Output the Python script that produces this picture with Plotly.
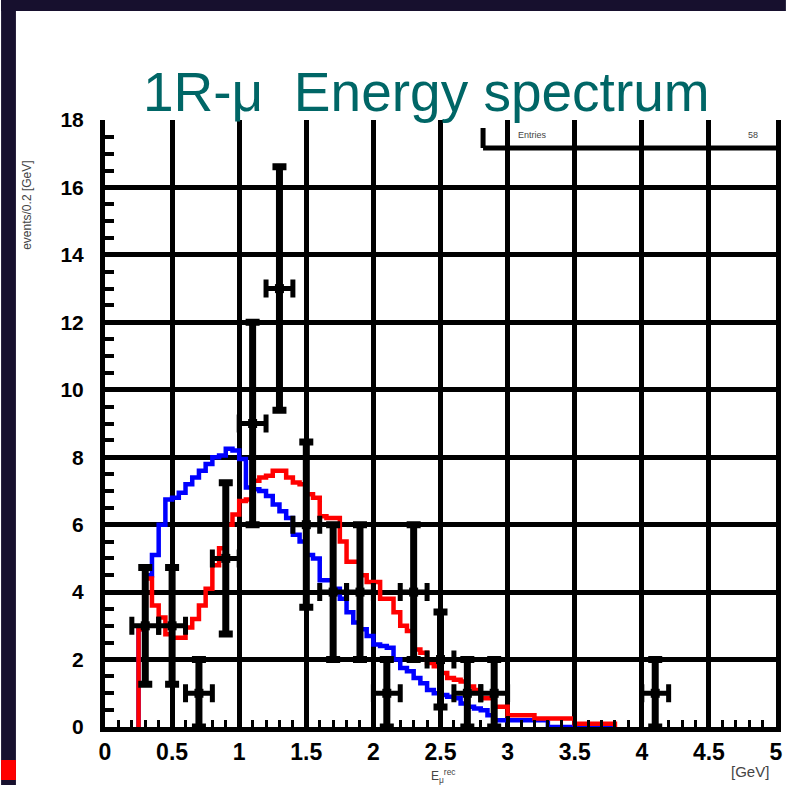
import numpy as np
import plotly.graph_objects as go

# ---------------- data ----------------
bin_start = 0.25
bin_width = 0.05
blue_mc = [2.9, 4.5, 5.1, 6.0, 6.75, 6.8, 6.95, 7.2, 7.4, 7.6,
           7.8, 8.0, 8.05, 8.25, 8.2, 7.95, 7.1, 7.05, 7.0, 6.85,
           6.6, 6.4, 6.2, 5.7, 5.5, 5.1, 5.0, 4.35, 4.35, 4.1,
           3.8, 3.4, 3.1, 2.9, 2.7, 2.45, 2.4, 2.35, 2.0, 1.75,
           1.65, 1.45, 1.3, 1.1, 1.0, 0.95, 0.9, 0.85, 0.7, 0.6,
           0.55, 0.5, 0.35, 0.2, 0.2, 0.2, 0.2, 0.2, 0.2, 0.2,
           0.2, 0, 0, 0, 0, 0, 0, 0, 0, 0, 0]
red_mc = [2.9, 4.4, 3.6, 3.25, 2.75, 2.65, 2.65, 2.95, 3.2, 3.6,
          4.1, 4.8, 5.3, 6.0, 6.3, 6.7, 6.75, 7.3, 7.4, 7.45,
          7.6, 7.6, 7.4, 7.25, 7.2, 6.9, 6.8, 6.25, 6.2, 6.2,
          5.5, 4.9, 4.9, 4.5, 4.3, 4.3, 3.8, 3.8, 3.4, 3.0,
          2.85, 2.3, 2.2, 1.9, 1.8, 1.6, 1.45, 1.4, 1.35, 1.2,
          1.1, 0.85, 0.85, 0.6, 0.6, 0.35, 0.35, 0.35, 0.35, 0.25,
          0.25, 0.25, 0.25, 0.25, 0.25, 0.1, 0.1, 0.1, 0.1, 0.1, 0.1]

data_x = [0.3, 0.5, 0.7, 0.9, 1.1, 1.3, 1.5, 1.7, 1.9, 2.1, 2.3, 2.5, 2.7, 2.9, 4.1]
data_y = [3, 3, 1, 5, 9, 13, 6, 4, 4, 1, 4, 2, 1, 1, 1]
data_yerr = [1.73, 1.73, 1, 2.24, 3, 3.61, 2.45, 2, 2, 1, 2, 1.41, 1, 1, 1]
data_xerr = [0.1] * len(data_x)

title_text = "1R-\u03bc  Energy spectrum"
ytitle_text = "events/0.2 [GeV]"
xtitle_text = "E<sub>\u03bc</sub><sup>rec</sup>"
xunit_text = "[GeV]"

# ---------------- geometry helpers ----------------
W, H = 793, 785
L, R, T, B = 105, 10, 120, 58
PW, PH = W - L - R, H - T - B


def px(xp):
    return (xp - L) / PW


def py(yp):
    return (H - B - yp) / PH


def step_xy(values):
    n = len(values)
    edges = [round(bin_start + i * bin_width, 4) for i in range(n + 1)]
    xs = [edges[0]] + edges
    ys = [0] + list(values) + [0]
    return xs, ys


fig = go.Figure()

bx, by = step_xy(blue_mc)
fig.add_trace(go.Scatter(x=bx, y=by, mode="lines", line_shape="hv",
                         line=dict(color="#0000ff", width=4.5),
                         hoverinfo="skip", showlegend=False))
rx, ry = step_xy(red_mc)
fig.add_trace(go.Scatter(x=rx, y=ry, mode="lines", line_shape="hv",
                         line=dict(color="#ff0000", width=4.5),
                         hoverinfo="skip", showlegend=False))

fig.add_trace(go.Scatter(
    x=data_x, y=data_y, mode="markers",
    marker=dict(symbol="square", size=9, color="black"),
    error_y=dict(type="data", array=data_yerr, visible=True,
                 color="black", thickness=7, width=7),
    error_x=dict(type="data", array=data_xerr, visible=True,
                 color="black", thickness=5, width=9),
    showlegend=False))

tickfont = dict(family="Liberation Sans, Arial, sans-serif", size=21,
                color="black", weight="bold")

fig.update_xaxes(range=[0, 5], dtick=0.5, tick0=0,
                 showgrid=True, gridcolor="black", gridwidth=4.5,
                 showline=True, linecolor="black", linewidth=5,
                 mirror=False, zeroline=False,
                 ticks="inside", ticklen=11, tickwidth=4, tickcolor="black",
                 minor=dict(dtick=0.1, ticks="inside", ticklen=7,
                            tickwidth=3, tickcolor="black", showgrid=False),
                 tickfont=dict(tickfont, size=23))
fig.update_yaxes(range=[0, 18], dtick=2, tick0=0,
                 showgrid=True, gridcolor="black", gridwidth=4.5,
                 showline=True, linecolor="black", linewidth=5,
                 mirror=True, zeroline=False,
                 ticks="inside", ticklen=14, tickwidth=4, tickcolor="black",
                 minor=dict(dtick=0.5, ticks="inside", ticklen=9,
                            tickwidth=4, tickcolor="black", showgrid=False),
                 ticklabelstandoff=12,
                 tickfont=tickfont)

shapes = [
    # dark slide border (left and top)
    dict(type="rect", xref="paper", yref="paper",
         x0=px(0), x1=px(15), y0=py(H), y1=py(0),
         fillcolor="#17102e", line=dict(width=0)),
    dict(type="rect", xref="paper", yref="paper",
         x0=px(0), x1=px(W), y0=py(11), y1=py(0),
         fillcolor="#17102e", line=dict(width=0)),
    dict(type="rect", xref="paper", yref="paper",
         x0=px(0), x1=px(15), y0=py(780), y1=py(760),
         fillcolor="#ff0000", line=dict(width=0)),
    # fragment of the stats box
    dict(type="line", xref="paper", yref="paper",
         x0=px(487), x1=px(783), y0=py(148), y1=py(148),
         line=dict(color="black", width=5)),
    dict(type="line", xref="paper", yref="paper",
         x0=px(487), x1=px(487), y0=py(148), y1=py(128),
         line=dict(color="black", width=5)),
]

annotations = [
    dict(text=title_text, xref="paper", yref="paper", x=px(430), y=py(92),
         xanchor="center", yanchor="middle", showarrow=False,
         font=dict(family="Liberation Sans, Arial, sans-serif", size=55,
                   color="#006666")),
    dict(text=ytitle_text, xref="paper", yref="paper", x=px(26), y=py(205),
         xanchor="center", yanchor="middle", showarrow=False, textangle=-90,
         font=dict(family="Liberation Sans, Arial, sans-serif", size=12,
                   color="#444444")),
    dict(text=xtitle_text, xref="paper", yref="paper", x=px(447), y=py(776),
         xanchor="center", yanchor="middle", showarrow=False,
         font=dict(family="Liberation Sans, Arial, sans-serif", size=12,
                   color="#444444")),
    dict(text=xunit_text, xref="paper", yref="paper", x=px(757), y=py(771),
         xanchor="center", yanchor="middle", showarrow=False,
         font=dict(family="Liberation Sans, Arial, sans-serif", size=15,
                   color="#444444")),
    dict(text="Entries", xref="paper", yref="paper", x=px(537), y=py(135),
         xanchor="center", yanchor="middle", showarrow=False,
         font=dict(family="Liberation Sans, Arial, sans-serif", size=9,
                   color="#444444")),
    dict(text="58", xref="paper", yref="paper", x=px(760), y=py(135),
         xanchor="center", yanchor="middle", showarrow=False,
         font=dict(family="Liberation Sans, Arial, sans-serif", size=9,
                   color="#444444")),
]

fig.update_layout(width=W, height=H,
                  margin=dict(l=L, r=R, t=T, b=B, pad=0),
                  paper_bgcolor="white", plot_bgcolor="white",
                  shapes=shapes, annotations=annotations,
                  showlegend=False)

fig.write_html("out.html")
